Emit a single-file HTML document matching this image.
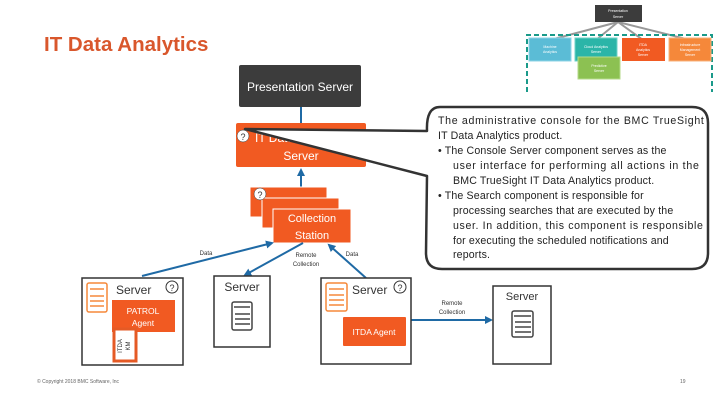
<!DOCTYPE html>
<html><head><meta charset="utf-8"><style>
body{margin:0;width:720px;height:405px;background:#fff;overflow:hidden;font-family:"Liberation Sans",sans-serif}
</style></head><body>
<svg width="720" height="405" viewBox="0 0 720 405" xmlns="http://www.w3.org/2000/svg" font-family="Liberation Sans, sans-serif">
<defs><marker id="a" markerWidth="8" markerHeight="8" refX="6" refY="4" orient="auto" markerUnits="userSpaceOnUse"><path d="M0,0 L8,4 L0,8 z" fill="#1f6aa5"/></marker></defs>
<text x="44" y="51" font-size="20.5" font-weight="bold" fill="#d9572c">IT Data Analytics</text>
<g stroke="#999" stroke-width="2"><line x1="618" y1="22" x2="550" y2="40"/><line x1="618" y1="22" x2="596" y2="40"/><line x1="618" y1="22" x2="643" y2="40"/><line x1="618" y1="22" x2="690" y2="40"/></g>
<rect x="595" y="5" width="47" height="17" fill="#3c3c3c"/>
<text x="618" y="12" font-size="3.5" fill="#fff" text-anchor="middle">Presentation</text><text x="618" y="18" font-size="3.5" fill="#fff" text-anchor="middle">Server</text>
<path d="M527,92 L527,35 L712,35 L712,92" fill="none" stroke="#1a9a8a" stroke-width="2" stroke-dasharray="5,3"/>
<rect x="529" y="38" width="42" height="23" fill="#5bbcd6" stroke="#8dd3e6"/>
<rect x="575" y="38" width="42" height="23" fill="#2bb5a8" stroke="#6fd3c8"/>
<rect x="622" y="38" width="43" height="23" fill="#f15a22"/>
<rect x="669" y="38" width="42" height="23" fill="#f5883a" stroke="#f8b07a"/>
<rect x="578" y="57" width="42" height="22" fill="#8cc152" stroke="#b4da8a"/>
<g font-size="3.5" fill="#fff" text-anchor="middle"><text x="550" y="48">Machine</text><text x="550" y="53">Analytics</text><text x="596" y="48">Cloud Analytics</text><text x="596" y="53">Server</text><text x="643" y="46">ITDA</text><text x="643" y="51">Analytics</text><text x="643" y="56">Server</text><text x="690" y="46">Infrastructure</text><text x="690" y="51">Management</text><text x="690" y="56">Server</text><text x="599" y="67">Predictive</text><text x="599" y="72">Server</text></g>
<rect x="239" y="65" width="122" height="42" rx="2" fill="#3c3c3c"/>
<text x="300" y="91" font-size="12" fill="#fff" text-anchor="middle">Presentation Server</text>
<line x1="301" y1="107" x2="301" y2="123" stroke="#1f6aa5" stroke-width="2"/>
<rect x="236" y="123" width="130" height="44" rx="2" fill="#f15a22"/>
<text x="255" y="142" font-size="12" fill="#fff">IT Data</text>
<text x="301" y="160" font-size="12" fill="#fff" text-anchor="middle">Server</text>
<line x1="301" y1="187" x2="301" y2="170" stroke="#1f6aa5" stroke-width="2" marker-end="url(#a)"/>
<rect x="250" y="187" width="77" height="30" fill="#f15a22" stroke="#fff"/>
<rect x="262" y="198" width="77" height="30" fill="#f15a22" stroke="#fff"/>
<rect x="273" y="209" width="78" height="34" fill="#f15a22" stroke="#fff"/>
<text x="312" y="222" font-size="11" fill="#fff" text-anchor="middle">Collection</text>
<text x="312" y="239" font-size="11" fill="#fff" text-anchor="middle">Station</text>
<circle cx="260" cy="194" r="6" fill="#fff" stroke="#333" stroke-width="0.5"/><text x="260" y="198" font-size="9" text-anchor="middle" fill="#333">?</text>
<g stroke="#1f6aa5" stroke-width="2"><line x1="142" y1="276" x2="272" y2="243" marker-end="url(#a)"/><line x1="303" y1="243" x2="245" y2="275" marker-end="url(#a)"/><line x1="366" y1="278" x2="329" y2="245" marker-end="url(#a)"/><line x1="411" y1="320" x2="491" y2="320" marker-end="url(#a)"/></g>
<g font-size="6" fill="#333" text-anchor="middle"><text x="206" y="255">Data</text><text x="306" y="257">Remote</text><text x="306" y="266">Collection</text><text x="352" y="256">Data</text><text x="452" y="305">Remote</text><text x="452" y="314">Collection</text></g>
<rect x="82" y="278" width="101" height="87" fill="#fff" stroke="#333" stroke-width="1.5"/>
<rect x="87" y="283" width="20" height="29" rx="2" fill="#fff" stroke="#f5883a" stroke-width="1.5"/><g stroke="#f5883a" stroke-width="1.5"><line x1="90" y1="289" x2="104" y2="289"/><line x1="90" y1="296" x2="104" y2="296"/><line x1="90" y1="301" x2="104" y2="301"/><line x1="90" y1="306" x2="104" y2="306"/></g>
<text x="116" y="294" font-size="12" fill="#333">Server</text>
<circle cx="172" cy="287" r="6" fill="#fff" stroke="#333"/><text x="172" y="291" font-size="9" text-anchor="middle" fill="#333">?</text>
<rect x="112" y="300" width="63" height="32" fill="#f15a22"/>
<text x="143" y="314" font-size="8.5" fill="#fff" text-anchor="middle">PATROL</text><text x="143" y="326" font-size="8.5" fill="#fff" text-anchor="middle">Agent</text>
<rect x="114" y="329" width="22" height="32" fill="#fff" stroke="#e55a25" stroke-width="3"/>
<text transform="translate(122,346) rotate(-90)" font-size="6" text-anchor="middle" fill="#333">ITDA</text>
<text transform="translate(130,346) rotate(-90)" font-size="6" text-anchor="middle" fill="#333">KM</text>
<rect x="214" y="276" width="56" height="71" fill="#fff" stroke="#333" stroke-width="1.5"/>
<text x="242" y="291" font-size="12" fill="#333" text-anchor="middle">Server</text>
<rect x="232" y="302" width="20" height="28" rx="2" fill="#fff" stroke="#444" stroke-width="1.5"/><g stroke="#444" stroke-width="1.5"><line x1="234" y1="307" x2="250" y2="307"/><line x1="235" y1="314" x2="250" y2="314"/><line x1="235" y1="319" x2="250" y2="319"/><line x1="235" y1="324" x2="250" y2="324"/></g>
<rect x="321" y="278" width="90" height="86" fill="#fff" stroke="#333" stroke-width="1.5"/>
<rect x="326" y="283" width="21" height="28" rx="2" fill="#fff" stroke="#f5883a" stroke-width="1.5"/><g stroke="#f5883a" stroke-width="1.5"><line x1="329" y1="289" x2="344" y2="289"/><line x1="329" y1="295" x2="344" y2="295"/><line x1="329" y1="300" x2="344" y2="300"/><line x1="329" y1="305" x2="344" y2="305"/></g>
<text x="352" y="294" font-size="12" fill="#333">Server</text>
<circle cx="400" cy="287" r="6" fill="#fff" stroke="#333"/><text x="400" y="291" font-size="9" text-anchor="middle" fill="#333">?</text>
<rect x="343" y="317" width="63" height="29" rx="1" fill="#f15a22"/>
<text x="374" y="335" font-size="8.5" fill="#fff" text-anchor="middle">ITDA Agent</text>
<rect x="493" y="286" width="58" height="78" fill="#fff" stroke="#333" stroke-width="1.5"/>
<text x="522" y="300" font-size="11" fill="#333" text-anchor="middle">Server</text>
<rect x="512" y="311" width="21" height="26" rx="2" fill="#fff" stroke="#444" stroke-width="1.5"/><g stroke="#444" stroke-width="1.5"><line x1="514" y1="316" x2="531" y2="316"/><line x1="515" y1="322" x2="531" y2="322"/><line x1="515" y1="327" x2="531" y2="327"/><line x1="515" y1="332" x2="531" y2="332"/></g>
<path d="M440,107 L692,107 Q708,107 708,123 L708,253 Q708,269 692,269 L442,269 Q426,269 426,253 L427,176 L245,129 L427,131 Q426,107 440,107 Z" fill="#fff" stroke="#333" stroke-width="2.5" stroke-linejoin="round"/>
<circle cx="243" cy="136" r="6" fill="#fff" stroke="#333" stroke-width="0.5"/><text x="243" y="140" font-size="9" text-anchor="middle" fill="#333">?</text>
<g font-size="10.6" fill="#222" letter-spacing="0.15">
<text x="438" y="124" textLength="266" lengthAdjust="spacing">The administrative console for the BMC TrueSight</text>
<text x="438" y="139">IT Data Analytics product.</text>
<text x="438" y="154">•  The Console Server component serves as the</text>
<text x="453" y="169" textLength="246" lengthAdjust="spacing">user interface for performing all actions in the</text>
<text x="453" y="184">BMC TrueSight IT Data Analytics product.</text>
<text x="438" y="199">•  The Search component is responsible for</text>
<text x="453" y="214">processing searches that are executed by the</text>
<text x="453" y="229" textLength="250" lengthAdjust="spacing">user. In addition, this component is responsible</text>
<text x="453" y="244">for executing the scheduled notifications and</text>
<text x="453" y="258">reports.</text></g>
<text x="37" y="383" font-size="5" fill="#666">© Copyright 2018 BMC Software, Inc</text>
<text x="680" y="383" font-size="5" fill="#666">19</text>
</svg>
</body></html>
